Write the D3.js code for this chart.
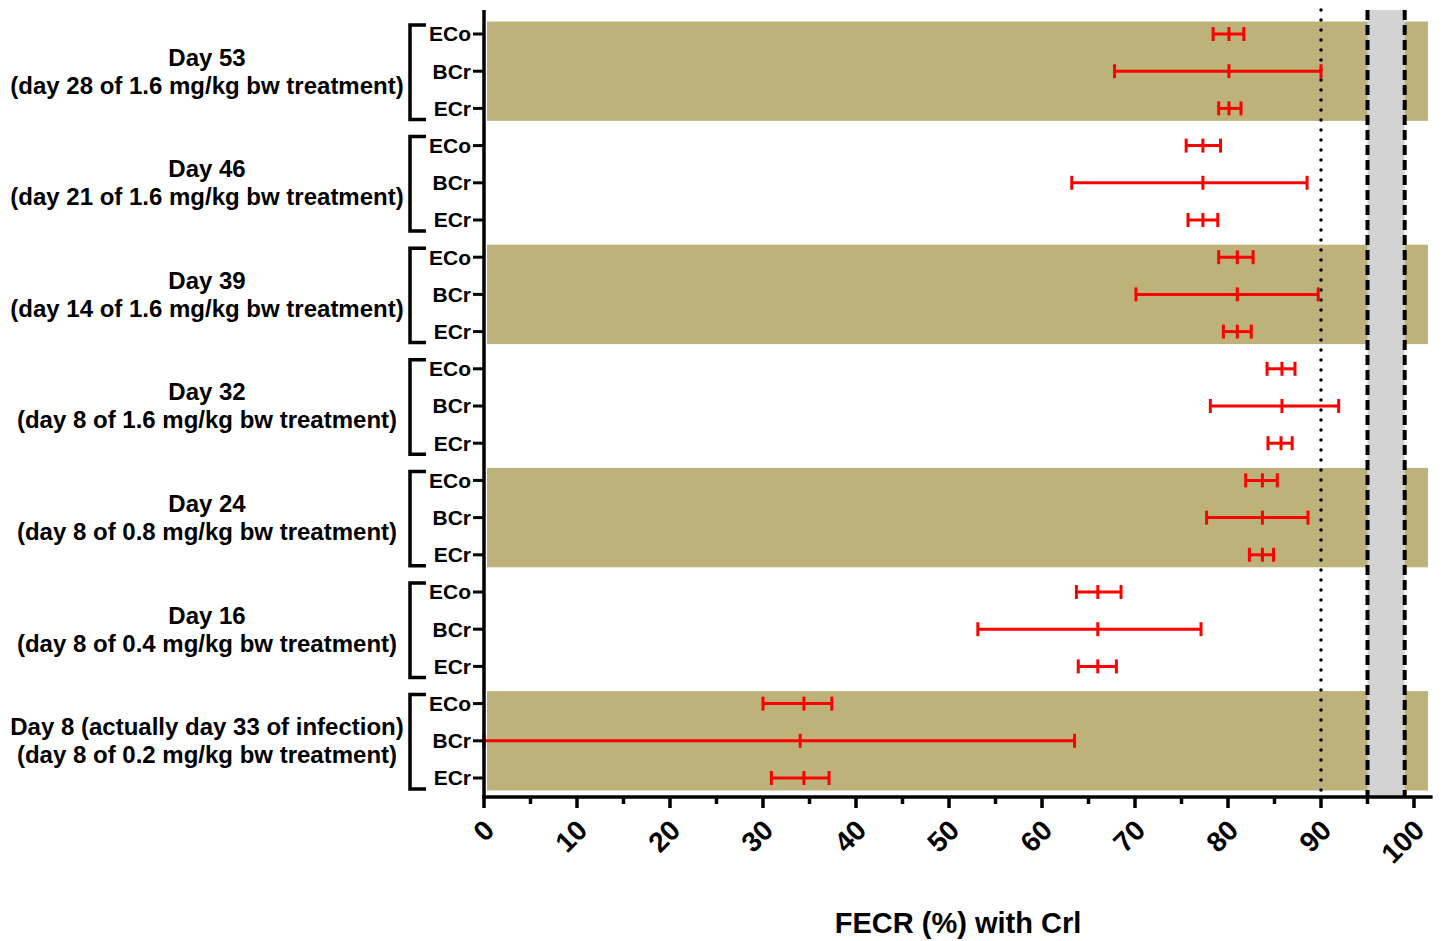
<!DOCTYPE html>
<html>
<head>
<meta charset="utf-8">
<script src="https://cdn.jsdelivr.net/npm/d3@7"></script>
<style>
  body { margin: 0; background: #fff; }
  svg text { font-family: "Liberation Sans", Arial, sans-serif; font-weight: bold; fill: #000; }
</style>
</head>
<body>
<svg id="chart" width="1442" height="941"></svg>
<script>
// group labels, top to bottom
const groupLine1 = ["Day 53", "Day 46", "Day 39", "Day 32", "Day 24", "Day 16", "Day 8 (actually day 33 of infection)"];
const groupLine2 = [
  "(day 28 of 1.6 mg/kg bw treatment)",
  "(day 21 of 1.6 mg/kg bw treatment)",
  "(day 14 of 1.6 mg/kg bw treatment)",
  "(day 8 of 1.6 mg/kg bw treatment)",
  "(day 8 of 0.8 mg/kg bw treatment)",
  "(day 8 of 0.4 mg/kg bw treatment)",
  "(day 8 of 0.2 mg/kg bw treatment)"
];
const shaded = [true, false, true, false, true, false, true];
const rowLabels = ["ECo", "BCr", "ECr"];

// FECR estimates and 95% limits, per group: [ECo, BCr, ECr]
const means = [
  [80.1, 80.1, 80.1],
  [77.3, 77.3, 77.3],
  [81.0, 81.0, 81.0],
  [85.8, 85.8, 85.7],
  [83.7, 83.7, 83.7],
  [66.0, 66.0, 66.0],
  [34.4, 34.0, 34.4]
];
const lows = [
  [78.4, 67.8, 79.0],
  [75.5, 63.2, 75.7],
  [79.0, 70.1, 79.5],
  [84.2, 78.1, 84.3],
  [81.9, 77.7, 82.3],
  [63.7, 53.1, 63.9],
  [30.0, 0.0, 30.9]
];
const highs = [
  [81.7, 90.0, 81.4],
  [79.2, 88.5, 78.9],
  [82.7, 89.7, 82.5],
  [87.2, 91.9, 86.9],
  [85.3, 88.6, 84.9],
  [68.5, 77.1, 68.0],
  [37.4, 63.5, 37.1]
];

const majorTicks = [0, 10, 20, 30, 40, 50, 60, 70, 80, 90, 100];
const minorTicks = [5, 15, 25, 35, 45, 55, 65, 75, 85, 95];
const dottedAt = 90;
const grayBand = [95, 99];
const xTitle = "FECR (%) with Crl";

const svg = d3.select("#chart");
const plotTop = 10, axisY = 797;

const x = d3.scaleLinear().domain([0, 100]).range([484, 1414]);
const rowKeys = [];
groupLine1.forEach((g, gi) => rowLabels.forEach((r, ri) => rowKeys.push(gi + "-" + ri)));
const y = d3.scalePoint().domain(rowKeys).range([34, 778]);
const half = 12.5;

// shaded group bands
const bandG = svg.append("g");
groupLine1.forEach((g, gi) => {
  if (!shaded[gi]) return;
  const y0 = y(gi + "-0") - half, y1 = y(gi + "-2") + half;
  bandG.append("rect")
    .attr("x", x(0) + 3).attr("y", y0)
    .attr("width", x(101.5) - x(0) - 3).attr("height", y1 - y0)
    .attr("fill", "#beb27b");
});

// gray region and reference lines
svg.append("rect")
  .attr("x", x(grayBand[0])).attr("y", plotTop)
  .attr("width", x(grayBand[1]) - x(grayBand[0])).attr("height", axisY - plotTop)
  .attr("fill", "#d3d3d3");

svg.append("line")
  .attr("x1", x(dottedAt)).attr("x2", x(dottedAt))
  .attr("y1", plotTop).attr("y2", axisY)
  .attr("stroke", "#000").attr("stroke-width", 3.5)
  .attr("stroke-linecap", "round").attr("stroke-dasharray", "0,10");

grayBand.forEach(v => {
  svg.append("line")
    .attr("x1", x(v)).attr("x2", x(v))
    .attr("y1", plotTop).attr("y2", axisY)
    .attr("stroke", "#000").attr("stroke-width", 4)
    .attr("stroke-dasharray", "10,5");
});

// error bars
const bars = svg.append("g").attr("stroke", "#ff0000").attr("stroke-width", 3);
groupLine1.forEach((g, gi) => {
  rowLabels.forEach((r, ri) => {
    const cy = y(gi + "-" + ri);
    const lo = lows[gi][ri], hi = highs[gi][ri], m = means[gi][ri];
    bars.append("line").attr("x1", x(lo)).attr("x2", x(hi)).attr("y1", cy).attr("y2", cy);
    [lo, m, hi].forEach(v => {
      bars.append("line").attr("x1", x(v)).attr("x2", x(v)).attr("y1", cy - 7).attr("y2", cy + 7);
    });
  });
});

// x axis
const xAxis = svg.append("g").attr("transform", "translate(0," + axisY + ")");
xAxis.append("line").attr("x1", x(0) - 2).attr("x2", x(102))
  .attr("stroke", "#000").attr("stroke-width", 3.5);
xAxis.selectAll(".major").data(majorTicks).enter().append("line")
  .attr("x1", d => x(d)).attr("x2", d => x(d)).attr("y1", 0).attr("y2", 11)
  .attr("stroke", "#000").attr("stroke-width", 3.5);
xAxis.selectAll(".minor").data(minorTicks).enter().append("line")
  .attr("x1", d => x(d)).attr("x2", d => x(d)).attr("y1", 0).attr("y2", 7)
  .attr("stroke", "#000").attr("stroke-width", 3.5);
xAxis.selectAll(".tl").data(majorTicks).enter().append("text")
  .attr("transform", d => "translate(" + (x(d) + 5) + ",28) rotate(-45)")
  .attr("text-anchor", "end").attr("dy", "0.35em")
  .style("font-size", "28px")
  .text(d => d);

svg.append("text")
  .attr("x", 958).attr("y", 933)
  .attr("text-anchor", "middle")
  .style("font-size", "29px")
  .text(xTitle);

// y axis
svg.append("line").attr("x1", x(0)).attr("x2", x(0)).attr("y1", plotTop).attr("y2", axisY + 2)
  .attr("stroke", "#000").attr("stroke-width", 3.5);
const yTicks = svg.append("g");
rowKeys.forEach(k => {
  const ri = +k.split("-")[1];
  yTicks.append("line").attr("x1", x(0) - 11).attr("x2", x(0)).attr("y1", y(k)).attr("y2", y(k))
    .attr("stroke", "#000").attr("stroke-width", 3);
  yTicks.append("text").attr("x", x(0) - 13).attr("y", y(k)).attr("dy", "0.35em")
    .attr("text-anchor", "end").style("font-size", "21px")
    .text(rowLabels[ri]);
});

// group brackets and labels
groupLine1.forEach((g, gi) => {
  const y0 = y(gi + "-0") - 9, y1 = y(gi + "-2") + 11;
  svg.append("path")
    .attr("d", "M426," + y0 + "H410V" + y1 + "H426")
    .attr("fill", "none").attr("stroke", "#000").attr("stroke-width", 3.5);
  const cy = y(gi + "-1");
  svg.append("text").attr("x", 207).attr("y", cy - 14).attr("dy", "0.35em")
    .attr("text-anchor", "middle").style("font-size", "24px").text(g);
  svg.append("text").attr("x", 207).attr("y", cy + 14).attr("dy", "0.35em")
    .attr("text-anchor", "middle").style("font-size", "24px").text(groupLine2[gi]);
});
</script>
</body>
</html>
